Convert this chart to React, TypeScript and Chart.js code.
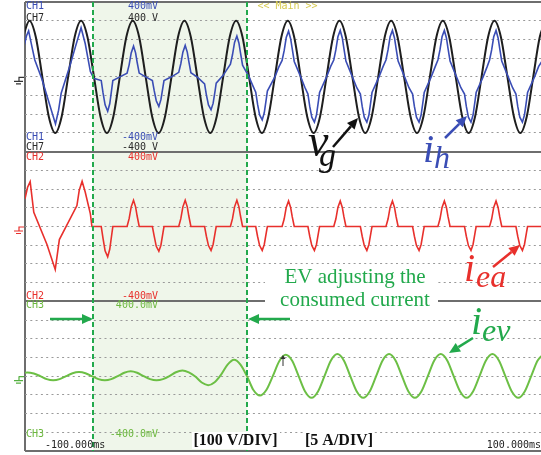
import React, { useEffect, useRef } from 'react';
import { Chart, registerables } from 'chart.js';

Chart.register(...registerables);

// ---------- scope settings ----------
const VOLTS_PER_DIV = 100;
const AMPS_PER_DIV = 5;
const TIME_START_MS = -100;
const TIME_END_MS = 99.7;
const TIME_DIV_MS = 20;
const PANEL_CENTERS = [20, 12, 4]; // division units (24 divisions in total)

// EV adjusting window (ms)
const evWindowMs = [-73.7, -14];

// ---------- data ----------
const smoothTimesMs = [
  -100.8, -98.3, -95.8, -93.3, -90.8, -88.3, -85.8, -83.3,
  -80.8, -78.3, -75.8, -73.3, -70.8, -68.3, -65.8, -63.3,
  -60.8, -58.3, -55.8, -53.3, -50.8, -48.3, -45.8, -43.3,
  -40.8, -38.3, -35.8, -33.3, -30.8, -28.3, -25.8, -23.3,
  -20.8, -18.3, -15.8, -13.3, -10.8, -8.3, -5.8, -3.3,
  -0.8, 1.7, 4.2, 6.7, 9.2, 11.7, 14.2, 16.7,
  19.2, 21.7, 24.2, 26.7, 29.2, 31.7, 34.2, 36.7,
  39.2, 41.7, 44.2, 46.7, 49.2, 51.7, 54.2, 56.7,
  59.2, 61.7, 64.2, 66.7, 69.2, 71.7, 74.2, 76.7,
  79.2, 81.7, 84.2, 86.7, 89.2, 91.7, 94.2, 96.7,
  99.2, 101.7,
];

const vgVolts = [
  212, 300, 212, 0, -212, -300, -212, 0,
  212, 300, 212, 0, -212, -300, -212, 0,
  212, 300, 212, 0, -212, -300, -212, 0,
  212, 300, 212, 0, -212, -300, -212, 0,
  212, 300, 212, 0, -212, -300, -212, 0,
  212, 300, 212, 0, -212, -300, -212, 0,
  212, 300, 212, 0, -212, -300, -212, 0,
  212, 300, 212, 0, -212, -300, -212, 0,
  212, 300, 212, 0, -212, -300, -212, 0,
  212, 300, 212, 0, -212, -300, -212, 0,
  212, 300,
];

const ievTimesMs = [
  -101.6, -99.1, -96.6, -94.1, -91.6, -89.1, -86.6, -84.1,
  -81.6, -79.1, -76.6, -74.1, -71.6, -69.1, -66.6, -64.1,
  -61.6, -59.1, -56.6, -54.1, -51.6, -49.1, -46.6, -44.1,
  -41.6, -39.1, -36.6, -34.1, -31.6, -29.1, -26.6, -24.1,
  -21.6, -19.1, -16.6, -14.1, -11.6, -9.1, -6.6, -4.1,
  -1.6, 0.9, 3.4, 5.9, 8.4, 10.9, 13.4, 15.9,
  18.4, 20.9, 23.4, 25.9, 28.4, 30.9, 33.4, 35.9,
  38.4, 40.9, 43.4, 45.9, 48.4, 50.9, 53.4, 55.9,
  58.4, 60.9, 63.4, 65.9, 68.4, 70.9, 73.4, 75.9,
  78.4, 80.9, 83.4, 85.9, 88.4, 90.9, 93.4, 95.9,
  98.4, 100.9,
];

const ievAmps = [
  0.7, 1.0, 0.7, 0, -0.8, -1.1, -0.8, 0,
  0.8, 1.1, 0.8, 0, -0.8, -1.1, -0.8, 0,
  0.9, 1.3, 0.9, 0, -0.8, -1.1, -0.8, 0,
  1.05, 1.5, 1.0, -0.1, -1.7, -2.4, -1.6, 0.4,
  3.1, 4.4, 3.1, 0, -3.7, -5.2, -3.7, 0,
  4.0, 5.7, 4.1, 0, -4.1, -5.8, -4.1, 0,
  4.2, 5.9, 4.2, 0, -4.1, -5.8, -4.1, 0,
  4.2, 5.9, 4.2, 0, -4.1, -5.8, -4.1, 0,
  4.2, 5.9, 4.2, 0, -4.1, -5.8, -4.1, 0,
  4.2, 5.9, 4.2, 0, -4.1, -5.8, -4.1, 0,
  4.2, 5.9,
];

const ieaTimesMs = [
  -100, -99.0, -98.0, -96.6, -91.5, -88.3, -86.7, -79.9, -79.0, -77.9, -76.7, -74.7, -74.1,
  -70.5, -69.8, -69.0, -68.0, -67.2, -66.4, -66.0,
  -60.5, -59.7, -58.9, -58.0, -57.2, -56.6, -55.8,
  -50.7, -50.0, -49.2, -48.2, -47.4, -46.6, -46.2,
  -40.5, -39.7, -38.9, -38.0, -37.2, -36.6, -35.8,
  -30.5, -29.8, -29.0, -28.0, -27.2, -26.4, -26.0,
  -20.5, -19.7, -18.9, -18.0, -17.2, -16.6, -15.8,
  -10.7, -10.0, -9.2, -8.2, -7.4, -6.6, -6.2,
  -0.5, 0.3, 1.1, 2.0, 2.8, 3.4, 4.2,
  9.5, 10.2, 11.0, 12.0, 12.8, 13.6, 14.0,
  19.5, 20.3, 21.1, 22.0, 22.8, 23.4, 24.2,
  29.8, 30.5, 31.3, 32.3, 33.1, 33.9, 34.3,
  39.7, 40.5, 41.3, 42.2, 43.0, 43.6, 44.4,
  50.0, 50.7, 51.5, 52.5, 53.3, 54.1, 54.5,
  59.8, 60.6, 61.4, 62.3, 63.1, 63.7, 64.5,
  70.1, 70.8, 71.6, 72.6, 73.4, 74.2, 74.6,
  79.8, 80.6, 81.4, 82.3, 83.1, 83.7, 84.5,
  90.0, 90.7, 91.5, 92.5, 93.3, 94.1, 94.5,
  101,
];

const ieaAmps = [
  7.4, 10.5, 12.0, 3.8, -4.8, -11.5, -3.5, 5.6, 9.7, 12.1, 9.2, 3.4, 0,
  0, -3.2, -6.5, -8.1, -6.1, -2.0, 0,
  0, 2.1, 5.25, 7.0, 5.25, 2.8, 0,
  0, -2.6, -5.3, -6.6, -5.0, -1.65, 0,
  0, 2.1, 5.25, 7.0, 5.25, 2.8, 0,
  0, -2.6, -5.1, -6.4, -4.8, -1.6, 0,
  0, 2.1, 5.25, 7.0, 5.25, 2.8, 0,
  0, -2.6, -5.1, -6.4, -4.8, -1.6, 0,
  0, 2.0, 5.1, 6.8, 5.1, 2.7, 0,
  0, -2.6, -5.1, -6.4, -4.8, -1.6, 0,
  0, 2.0, 5.1, 6.8, 5.1, 2.7, 0,
  0, -2.6, -5.1, -6.4, -4.8, -1.6, 0,
  0, 2.0, 5.1, 6.8, 5.1, 2.7, 0,
  0, -2.6, -5.1, -6.4, -4.8, -1.6, 0,
  0, 2.0, 5.1, 6.8, 5.1, 2.7, 0,
  0, -2.6, -5.1, -6.4, -4.8, -1.6, 0,
  0, 2.0, 5.1, 6.8, 5.1, 2.7, 0,
  0, -2.6, -5.1, -6.4, -4.8, -1.6, 0,
  0,
];

const ihTimesMs = [
  -100.2, -99.4, -98.6, -97.3, -96.2, -93.5, -88.2, -87.0, -86.0, -82.5, -80.5, -78.3, -76.7, -74.7, -73.4,
  -70.5, -69.8, -69.0, -68.0, -67.2, -66.4, -66.0, -63.3,
  -60.5, -59.7, -58.9, -58.0, -57.2, -56.6, -55.8, -53.3,
  -50.7, -50.0, -49.2, -48.2, -47.4, -46.6, -46.2, -43.3,
  -40.5, -39.7, -38.9, -38.0, -37.2, -36.6, -35.8, -33.3,
  -30.5, -29.8, -29.0, -28.0, -27.2, -26.4, -26.0, -23.3, -22.0,
  -20.5, -19.7, -18.9, -18.0, -17.2, -16.6, -15.8, -13.3, -11.8,
  -10.7, -10.0, -9.2, -8.2, -7.4, -6.6, -6.2, -3.3, -1.8,
  -0.5, 0.3, 1.1, 2.0, 2.8, 3.4, 4.2, 6.7, 8.3,
  9.5, 10.2, 11.0, 12.0, 12.8, 13.6, 14.0, 16.7, 18.3,
  19.5, 20.3, 21.1, 22.0, 22.8, 23.4, 24.2, 26.7, 28.4,
  29.8, 30.5, 31.3, 32.3, 33.1, 33.9, 34.3, 37.0, 38.6,
  39.7, 40.5, 41.3, 42.2, 43.0, 43.6, 44.4, 46.9, 48.6,
  50.0, 50.7, 51.5, 52.5, 53.3, 54.1, 54.5, 57.2, 58.8,
  59.8, 60.6, 61.4, 62.3, 63.1, 63.7, 64.5, 67.0, 68.7,
  70.1, 70.8, 71.6, 72.6, 73.4, 74.2, 74.6, 77.3, 78.9,
  79.8, 80.6, 81.4, 82.3, 83.1, 83.7, 84.5, 87.0, 88.7,
  90.0, 90.7, 91.5, 92.5, 93.3, 94.1, 94.5, 97.2, 98.8, 100.5,
];

const ihAmps = [
  8.6, 11.0, 12.3, 8.0, 4.5, -0.5, -12.6, -8.9, -4.4, 3.2, 8.0, 13.1, 8.9, 1.4, -0.4,
  -1.0, -4.3, -7.5, -9.2, -7.2, -3.1, -1.0, 0.0,
  1.0, 3.2, 6.4, 8.2, 6.4, 3.9, 1.0, 0.0,
  -1.0, -3.7, -6.4, -7.9, -6.1, -2.7, -1.0, 0.0,
  1.2, 3.5, 6.6, 8.4, 6.6, 4.1, 1.1, -0.1,
  -1.9, -4.8, -7.5, -8.8, -7.1, -3.6, -1.7, 0.4, 1.8,
  3.4, 5.9, 9.2, 10.9, 9.0, 6.4, 3.1, 0.0, -2.4,
  -4.1, -7.3, -10.2, -11.5, -9.6, -5.8, -3.8, 0.0, 2.6,
  4.4, 7.0, 10.5, 12.2, 10.2, 7.6, 4.1, 0.0, -2.8,
  -4.6, -7.9, -10.8, -12.1, -10.2, -6.3, -4.2, 0.0, 2.8,
  4.5, 7.2, 10.7, 12.4, 10.4, 7.7, 4.2, 0.0, -2.9,
  -4.6, -7.9, -10.8, -12.1, -10.2, -6.3, -4.2, 0.0, 2.8,
  4.5, 7.2, 10.7, 12.4, 10.4, 7.7, 4.2, 0.0, -2.9,
  -4.6, -7.9, -10.8, -12.1, -10.2, -6.3, -4.2, 0.0, 2.8,
  4.5, 7.2, 10.7, 12.4, 10.4, 7.7, 4.2, 0.0, -2.9,
  -4.6, -7.9, -10.8, -12.1, -10.2, -6.3, -4.2, 0.0, 2.8,
  4.5, 7.2, 10.7, 12.4, 10.4, 7.7, 4.2, 0.0, -2.9,
  -4.6, -7.9, -10.8, -12.1, -10.2, -6.3, -4.2, 0.0, 2.8, 4.6,
];

// ---------- texts ----------
const channelNames = ['CH1', 'CH7', 'CH2', 'CH3'];
const rangeTopLabels = ['400mV', '400 V', '400mV', '400.0mV'];
const rangeBottomLabels = ['-400mV', '-400 V', '-400mV', '-400.0mV'];
const timeLabels = ['-100.000ms', '100.000ms'];
const modeLabel = '<< Main >>';
const scaleNotes = ['[100 V/DIV]', '[5 A/DIV]'];
const windowNote = ['EV adjusting the', 'consumed current'];
const traceNames = [
  ['v', 'g'],
  ['i', 'h'],
  ['i', 'ea'],
  ['i', 'ev'],
];

// ---------- colours ----------
const C_BLACK = '#1e1e1e';
const C_BLUE = '#3a4db5';
const C_RED = '#e8302c';
const C_GREEN_TRACE = '#6cbf45';
const C_GREEN = '#22a94c';
const C_FRAME = '#6e6e6e';
const C_GRID = '#9a9a9a';

const toPoints = (times: number[], vals: number[], perDiv: number, center: number) =>
  times.map((t, i) => ({ x: t, y: vals[i] / perDiv + center }));

function drawArrow(ctx: CanvasRenderingContext2D, x1: number, y1: number, x2: number, y2: number,
  color: string, width = 2.5, head = 11, half = 5) {
  const ang = Math.atan2(y2 - y1, x2 - x1);
  const bx = x2 - head * Math.cos(ang);
  const by = y2 - head * Math.sin(ang);
  ctx.save();
  ctx.strokeStyle = color;
  ctx.fillStyle = color;
  ctx.lineWidth = width;
  ctx.beginPath();
  ctx.moveTo(x1, y1);
  ctx.lineTo(bx, by);
  ctx.stroke();
  ctx.beginPath();
  ctx.moveTo(x2, y2);
  ctx.lineTo(bx + half * Math.sin(ang), by - half * Math.cos(ang));
  ctx.lineTo(bx - half * Math.sin(ang), by + half * Math.cos(ang));
  ctx.closePath();
  ctx.fill();
  ctx.restore();
}

function drawSubLabel(ctx: CanvasRenderingContext2D, main: string, sub: string,
  x: number, y: number, sx: number, sy: number, color: string, mainSize: number, subSize: number) {
  ctx.save();
  ctx.fillStyle = color;
  ctx.textAlign = 'left';
  ctx.textBaseline = 'alphabetic';
  ctx.font = `italic ${mainSize}px 'Liberation Serif'`;
  ctx.fillText(main, x, y);
  ctx.font = `italic ${subSize}px 'Liberation Serif'`;
  ctx.fillText(sub, sx, sy);
  ctx.restore();
}

function drawGround(ctx: CanvasRenderingContext2D, left: number, y: number, color: string) {
  ctx.save();
  ctx.strokeStyle = color;
  ctx.lineWidth = 1.2;
  const sx = left - 6;
  ctx.beginPath();
  ctx.moveTo(sx, y + 0.5);
  ctx.lineTo(left - 1, y + 0.5);
  ctx.moveTo(sx, y);
  ctx.lineTo(sx, y + 4);
  ctx.moveTo(sx - 5, y + 4.5);
  ctx.lineTo(sx + 4, y + 4.5);
  ctx.moveTo(sx - 3, y + 7);
  ctx.lineTo(sx + 2, y + 7);
  ctx.stroke();
  ctx.restore();
}

const decorPlugin = {
  id: 'scopeDecor',
  beforeDraw(chart: any) {
    const { ctx, chartArea: a, scales } = chart;
    ctx.save();
    ctx.fillStyle = '#ffffff';
    ctx.fillRect(0, 0, chart.width, chart.height);
    const x0 = scales.x.getPixelForValue(evWindowMs[0]);
    const x1 = scales.x.getPixelForValue(evWindowMs[1]);
    ctx.fillStyle = '#eff6ea';
    ctx.fillRect(x0, a.top, x1 - x0, a.bottom - a.top);
    ctx.restore();
  },
  afterDatasetsDraw(chart: any) {
    const { ctx, chartArea: a, scales } = chart;
    ctx.save();
    ctx.strokeStyle = C_GREEN;
    ctx.lineWidth = 2;
    ctx.setLineDash([5, 3]);
    for (const t of evWindowMs) {
      const x = Math.round(scales.x.getPixelForValue(t));
      ctx.beginPath();
      ctx.moveTo(x, a.top);
      ctx.lineTo(x, a.bottom);
      ctx.stroke();
    }
    ctx.restore();
  },
  afterDraw(chart: any) {
    const { ctx, chartArea: a, scales } = chart;
    const y = scales.y;
    const xs = scales.x;

    // ground markers
    drawGround(ctx, a.left, y.getPixelForValue(PANEL_CENTERS[0]), '#333333');
    drawGround(ctx, a.left, y.getPixelForValue(PANEL_CENTERS[1]), C_RED);
    drawGround(ctx, a.left, y.getPixelForValue(PANEL_CENTERS[2]), '#55b040');

    // scope labels
    ctx.save();
    ctx.font = "10px 'DejaVu Sans Mono'";
    ctx.textBaseline = 'middle';
    const lx = a.left + 1;
    const rx = a.left + 133;
    const put = (txt: string, x: number, yy: number, col: string, align: CanvasTextAlign) => {
      ctx.fillStyle = col;
      ctx.textAlign = align;
      ctx.fillText(txt, x, yy);
    };
    const chCols = [C_BLUE, '#2a2a2a', C_RED, '#6cb83e'];
    const topY = [a.top + 4, a.top + 16.5, y.getPixelForValue(16) + 5.5, y.getPixelForValue(8) + 4.5];
    const botY = [y.getPixelForValue(16) - 14.5, y.getPixelForValue(16) - 4.5, y.getPixelForValue(8) - 5, a.bottom - 16.5];
    for (let i = 0; i < 4; i++) {
      put(channelNames[i], lx, topY[i], chCols[i], 'left');
      put(rangeTopLabels[i], rx, topY[i], chCols[i], 'right');
      put(channelNames[i], lx, botY[i], chCols[i], 'left');
      put(rangeBottomLabels[i], rx, botY[i], chCols[i], 'right');
    }
    put(modeLabel, xs.getPixelForValue(0) - 26, a.top + 4.5, '#d6c94e', 'left');
    put(timeLabels[0], a.left + 20, a.bottom - 6, '#222', 'left');
    put(timeLabels[1], chart.width, a.bottom - 6, '#222', 'right');
    ctx.restore();

    // white boxes behind notes
    ctx.save();
    ctx.fillStyle = '#ffffff';
    ctx.fillRect(265, 264, 173, 48);
    ctx.fillRect(192, 432, 88, 17);
    ctx.fillRect(303, 432, 71, 17);
    ctx.restore();

    // notes
    ctx.save();
    ctx.fillStyle = C_GREEN;
    ctx.textAlign = 'center';
    ctx.textBaseline = 'alphabetic';
    ctx.font = "21px 'Liberation Serif'";
    ctx.fillText(windowNote[0], 355, 283);
    ctx.fillText(windowNote[1], 355, 306);
    ctx.fillStyle = '#111';
    ctx.font = "bold 16px 'Liberation Serif'";
    ctx.textAlign = 'left';
    ctx.fillText(scaleNotes[0], 193.5, 445);
    ctx.fillText(scaleNotes[1], 305, 445);
    ctx.restore();

    // trace names
    drawSubLabel(ctx, traceNames[0][0], traceNames[0][1], 308, 156, 319, 166, '#111', 46, 34);
    drawSubLabel(ctx, traceNames[1][0], traceNames[1][1], 423, 162, 434, 168, C_BLUE, 40, 32);
    drawSubLabel(ctx, traceNames[2][0], traceNames[2][1], 464, 281, 476, 287, C_RED, 40, 32);
    drawSubLabel(ctx, traceNames[3][0], traceNames[3][1], 471, 334, 482, 341, C_GREEN, 40, 32);

    // arrows
    drawArrow(ctx, 333, 147, 358, 118, '#111');
    drawArrow(ctx, 445, 138, 467, 116, C_BLUE);
    drawArrow(ctx, 493, 267, 520, 245, C_RED);
    drawArrow(ctx, 473, 338, 449, 353, C_GREEN);
    drawArrow(ctx, 50, 319, 93, 319, C_GREEN);
    drawArrow(ctx, 290, 319, 248, 319, C_GREEN);
    drawArrow(ctx, 283, 366, 283, 355, '#333', 1, 4, 2.5);
  },
};

export default function App() {
  const ref = useRef<HTMLCanvasElement | null>(null);

  useEffect(() => {
    if (!ref.current) return;
    const frameX = (v: number) => Math.abs(v - TIME_START_MS) < 1e-6;
    const onDiv = (v: number) => Math.abs(v / TIME_DIV_MS - Math.round(v / TIME_DIV_MS)) < 1e-6;
    const chart = new Chart(ref.current, {
      type: 'line',
      data: {
        datasets: [
          {
            label: 'vg',
            data: toPoints(smoothTimesMs, vgVolts, VOLTS_PER_DIV, PANEL_CENTERS[0]),
            borderColor: C_BLACK,
            borderWidth: 2,
            cubicInterpolationMode: 'monotone',
            pointRadius: 0,
            order: 3,
          },
          {
            label: 'ih',
            data: toPoints(ihTimesMs, ihAmps, AMPS_PER_DIV, PANEL_CENTERS[0]),
            borderColor: C_BLUE,
            borderWidth: 1.6,
            tension: 0,
            pointRadius: 0,
            order: 2,
          },
          {
            label: 'iea',
            data: toPoints(ieaTimesMs, ieaAmps, AMPS_PER_DIV, PANEL_CENTERS[1]),
            borderColor: C_RED,
            borderWidth: 1.6,
            tension: 0,
            pointRadius: 0,
            order: 1,
          },
          {
            label: 'iev',
            data: toPoints(ievTimesMs, ievAmps, AMPS_PER_DIV, PANEL_CENTERS[2]),
            borderColor: C_GREEN_TRACE,
            borderWidth: 2,
            cubicInterpolationMode: 'monotone',
            pointRadius: 0,
            order: 1,
          },
        ],
      },
      options: {
        animation: false,
        responsive: false,
        maintainAspectRatio: false,
        layout: { padding: { left: 25, top: 2, right: 0, bottom: 4 } },
        plugins: { legend: { display: false }, tooltip: { enabled: false } },
        elements: { point: { radius: 0 } },
        scales: {
          x: {
            type: 'linear',
            min: TIME_START_MS,
            max: TIME_END_MS,
            ticks: { display: false, stepSize: TIME_DIV_MS },
            grid: {
              drawTicks: false,
              color: (c: any) => (frameX(c.tick.value) ? C_FRAME : onDiv(c.tick.value) ? C_GRID : 'rgba(0,0,0,0)'),
              lineWidth: (c: any) => (frameX(c.tick.value) ? 2 : 1),
            },
            border: {
              display: false,
              dash: (c: any) => (c.tick && !frameX(c.tick.value) ? [1, 2] : []),
            },
          },
          y: {
            min: 0,
            max: 24,
            ticks: { display: false, stepSize: 1 },
            grid: {
              drawTicks: false,
              color: (c: any) => (c.tick.value % 8 === 0 ? C_FRAME : C_GRID),
              lineWidth: (c: any) => (c.tick.value % 8 === 0 ? 2 : 1),
            },
            border: {
              display: false,
              dash: (c: any) => (c.tick && c.tick.value % 8 !== 0 ? [2, 3.3] : []),
            },
          },
        },
      },
      plugins: [decorPlugin],
    });
    return () => chart.destroy();
  }, []);

  return (
    <div style={{ position: 'absolute', left: 0, top: 0, width: 541, height: 455, background: '#fff' }}>
      <canvas ref={ref} width={541} height={455} style={{ display: 'block' }} />
    </div>
  );
}
